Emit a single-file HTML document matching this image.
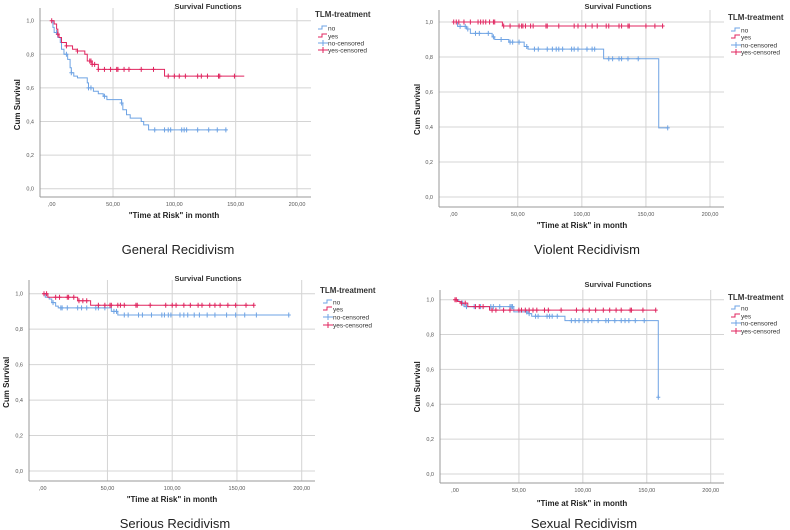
<!DOCTYPE html>
<html><head><meta charset="utf-8"><style>
html,body{margin:0;padding:0;background:#fff;}
svg{display:block;font-family:"Liberation Sans",sans-serif;}
</style></head><body>
<svg id="root" width="790" height="530" viewBox="0 0 790 530"></svg>
<script>
// ---- Data (time in months, cumulative survival) ----
const xTicks = [0, 50, 100, 150, 200];
const xTickLabels = [",00", "50,00", "100,00", "150,00", "200,00"];
const yTicks = [0, 0.2, 0.4, 0.6, 0.8, 1.0];
const yTickLabels = ["0,0", "0,2", "0,4", "0,6", "0,8", "1,0"];
const legendLabels = ["no", "yes", "no-censored", "yes-censored"];
const captions = ["General Recidivism", "Violent Recidivism", "Serious Recidivism", "Sexual Recidivism"];

// General
const genNoT = [1,2,5,7,8,10,13,15,16,18,21,29,30,34,38,42,45,57,58,61,64,73,75,79];
const genNoS = [.96,.93,.90,.87,.83,.80,.77,.72,.69,.67,.66,.63,.60,.58,.565,.55,.53,.51,.47,.44,.42,.40,.38,.35];
const genNoEnd = 143;
const genNoCens = [4,12,16,30,32,43,57,84,92,95,97,106,108,110,119,128,135,142];
const genYesT = [2,4,5,6,8,12,17,21,27,29,33,38,92];
const genYesS = [.98,.95,.92,.90,.87,.85,.83,.82,.80,.76,.74,.71,.67];
const genYesEnd = 157;
const genYesCens = [0,5,12,21,31,32,33,35,38,43,48,53,54,59,63,73,83,95,100,104,109,119,122,127,136,137,149];
// Violent
const vioNoT = [3,10,13,30,32,43,55,58,117,160];
const vioNoS = [.975,.96,.935,.915,.90,.885,.86,.845,.79,.395];
const vioNoEnd = 167;
const vioNoCens = [5,9,11,17,20,27,31,37,44,46,51,57,63,66,73,77,80,82,85,92,94,97,104,108,110,121,124,129,131,136,144,167];
const vioYesT = [38];
const vioYesS = [.977];
const vioYesEnd = 163;
const vioYesCens = [0,2,4,8,13,19,21,23,25,28,31,32,39,44,51,53,54,56,60,62,72,73,82,94,97,103,108,112,119,121,129,131,136,137,150,157,163];
// Serious
const serNoT = [2,5,7,10,12,53,58];
const serNoS = [.98,.97,.95,.93,.92,.90,.88];
const serNoEnd = 190;
const serNoCens = [8,14,15,19,27,30,34,41,43,48,55,57,63,66,74,77,84,92,94,97,99,106,109,112,117,121,127,133,142,149,156,165,190];
const serYesT = [4,27,37];
const serYesS = [.98,.96,.935];
const serYesEnd = 163;
const serYesCens = [1,3,10,13,19,20,24,28,31,34,43,48,52,53,58,60,63,72,73,83,95,100,103,109,114,120,123,129,133,137,143,149,157,163];
// Sexual
const sexNoT = [3,5,7,46,57,60,86,159];
const sexNoS = [.99,.98,.96,.93,.92,.905,.88,.44];
const sexNoEnd = 159;
const sexNoCens = [6,9,15,20,28,30,35,43,44,45,56,58,63,65,72,74,76,80,91,94,97,101,104,107,112,118,120,125,130,133,136,141,148,159];
const sexYesT = [2,4,10,27];
const sexYesS = [.99,.98,.96,.94];
const sexYesEnd = 157;
const sexYesCens = [0,1,5,8,16,19,22,29,32,38,43,50,52,55,58,61,64,70,73,83,95,100,105,110,116,121,126,130,137,138,147,157];

const BLUE = "#6ea3e4", RED = "#e0255f", GRID = "#d4d4d4", AX = "#999";
const NS = "http://www.w3.org/2000/svg";
const root = document.getElementById('root');

function mk(tag, attrs, parent){
  const e = document.createElementNS(NS, tag);
  for (const k in attrs) e.setAttribute(k, attrs[k]);
  parent.appendChild(e); return e;
}
function txt(s, attrs, parent){ const e = mk('text', attrs, parent); e.textContent = s; return e; }

const panels = [
  {name:"general", L:40, R:311, x0:51.7, x200:297, y1:20.7, y0:188.7, axB:197, axT:8, titleX:208, titleY:9, legX:315, legY:17, items:[28,36,43,50], ylX:17, xlX:174, xlY:218, capX:178, capY:254,
   no:[genNoT,genNoS,genNoEnd,genNoCens], yes:[genYesT,genYesS,genYesEnd,genYesCens]},
  {name:"violent", L:439, R:724, x0:453.7, x200:710, y1:22, y0:197, axB:207, axT:10, titleX:618, titleY:9, legX:728, legY:20, items:[30,37,45,52], ylX:417, xlX:582, xlY:228, capX:587, capY:254,
   no:[vioNoT,vioNoS,vioNoEnd,vioNoCens], yes:[vioYesT,vioYesS,vioYesEnd,vioYesCens]},
  {name:"serious", L:29, R:315, x0:42.7, x200:301.7, y1:293.7, y0:471, axB:481, axT:280, titleX:208, titleY:281, legX:320, legY:293, items:[302,309,317,325], ylX:6, xlX:172, xlY:502, capX:175, capY:528,
   no:[serNoT,serNoS,serNoEnd,serNoCens], yes:[serYesT,serYesS,serYesEnd,serYesCens]},
  {name:"sexual", L:440, R:724, x0:455, x200:710.7, y1:299.7, y0:474, axB:483, axT:290, titleX:618, titleY:287, legX:728, legY:300, items:[308,316,323,331], ylX:417, xlX:582, xlY:506, capX:584, capY:528,
   no:[sexNoT,sexNoS,sexNoEnd,sexNoCens], yes:[sexYesT,sexYesS,sexYesEnd,sexYesCens]}
];

function survAt(T, S, t){ let s = 1; for (let i=0;i<T.length;i++){ if (T[i] <= t) s = S[i]; } return s; }

panels.forEach((p, pi) => {
  const g = mk('g', {}, root);
  
  
  const xs = t => p.x0 + (p.x200 - p.x0) * t / 200;
  const ys = v => p.y0 - (p.y0 - p.y1) * v;

  yTicks.forEach((v, i) => {
    const l = mk('line', {x1:p.L, x2:p.R, y1:ys(v), y2:ys(v), stroke:GRID, 'stroke-width':1}, g);
    
    
    const t = txt(yTickLabels[i], {x:p.L-6, y:ys(v)+2, 'font-size':5.5, fill:'#555', 'text-anchor':'end'}, g);
    
    
  });
  xTicks.forEach((v, i) => {
    if (v > 0) {
      const l = mk('line', {x1:xs(v), x2:xs(v), y1:p.axT, y2:p.axB, stroke:GRID, 'stroke-width':1}, g);
      
      
    }
    const t = txt(xTickLabels[i], {x:xs(v), y:p.axB+9, 'font-size':5.5, fill:'#555', 'text-anchor':'middle'}, g);
    
    
  });
  const ax1 = mk('line', {x1:p.L, x2:p.L, y1:p.axT, y2:p.axB, stroke:AX, 'stroke-width':1}, g);
  
  
  const ax2 = mk('line', {x1:p.L, x2:p.R, y1:p.axB, y2:p.axB, stroke:AX, 'stroke-width':1}, g);
  
  

  [['no', BLUE, p.no], ['yes', RED, p.yes]].forEach(([nm, col, d]) => {
    const [T, S, end, C] = d;
    let path = 'M' + xs(0) + ',' + ys(1);
    for (let i=0;i<T.length;i++){ path += ' H' + xs(T[i]) + ' V' + ys(S[i]); }
    path += ' H' + xs(end);
    const pl = mk('path', {d:path, fill:'none', stroke:col, 'stroke-width':1}, g);
    
    
    C.forEach(c => {
      const cx = xs(c), cy = ys(survAt(T, S, c));
      const m = mk('path', {d:`M${cx-2},${cy} H${cx+2} M${cx},${cy-2.5} V${cy+2.5}`, stroke:col, 'stroke-width':1, fill:'none'}, g);
      
      
    });
  });

  const tt = txt('Survival Functions', {x:p.titleX, y:p.titleY, 'font-size':7.5, 'font-weight':'bold', fill:'#333', 'text-anchor':'middle'}, g);
  
  
  const yl = txt('Cum Survival', {x:0, y:0, 'font-size':8, 'font-weight':'bold', fill:'#222', 'text-anchor':'middle', transform:`translate(${p.ylX+3},${(p.y0+p.y1)/2}) rotate(-90)`}, g);
  
  
  const xl = txt('"Time at Risk" in month', {x:p.xlX, y:p.xlY, 'font-size':8, 'font-weight':'bold', fill:'#222', 'text-anchor':'middle'}, g);
  
  
  const cap = txt(captions[pi], {x:p.capX, y:p.capY, 'font-size':13, fill:'#222', 'text-anchor':'middle'}, g);
  
  

  const lt = txt('TLM-treatment', {x:p.legX, y:p.legY, 'font-size':8, 'font-weight':'bold', fill:'#333'}, g);
  
  
  legendLabels.forEach((lab, i) => {
    const y = p.items[i];
    const col = i % 2 === 0 ? BLUE : RED;
    const lx = p.legX + 3;
    let d;
    if (i < 2) d = `M${lx},${y+1} H${lx+4} V${y-2} H${lx+9}`;
    else d = `M${lx},${y} H${lx+10} M${lx+5},${y-3} V${y+3}`;
    const sw = mk('path', {d:d, stroke:col, 'stroke-width':1, fill:'none'}, g);
    
    
    const t = txt(lab, {x:lx+10, y:y+2.5, 'font-size':6.5, fill:'#333'}, g);
    
    
  });
});
</script>
</body></html>
